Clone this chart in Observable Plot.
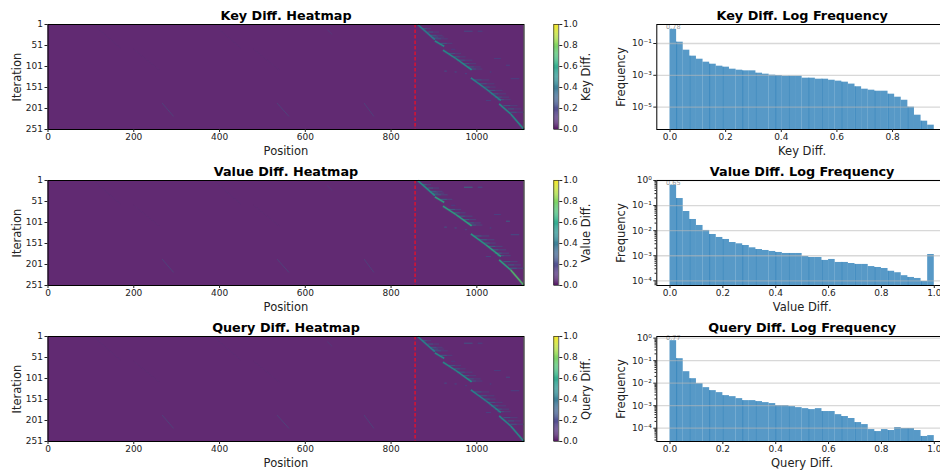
<!DOCTYPE html>
<html><head><meta charset="utf-8">
<script src="https://cdn.jsdelivr.net/npm/d3@7"></script>
<script src="https://cdn.jsdelivr.net/npm/@observablehq/plot@0.6"></script>
<style>
html,body{margin:0;padding:0;background:#fff;overflow:hidden}
#fig{position:relative;width:940px;height:470px;overflow:hidden}
#fig>div{position:absolute}
g[aria-label="link"]{filter:blur(0.5px)}
</style></head><body><div id="fig"></div>
<script>
// Heatmap: main diagonal segments (position, iteration)
const segPosStart=[862,902,921,951,986,1021,1052,1079];
const segPosEnd=[902,924,951,988,1021,1056,1079,1110];
const segIterStart=[1,40,62,82,128,154,190,214];
const segIterEnd=[37,53,82,109,154,182,214,251];
const keySegValues=[0.46,0.52,0.52,0.52,0.48,0.48,0.52,0.52];
const valueSegValues=[0.54,0.62,0.62,0.62,0.58,0.62,0.62,0.72];
const querySegValues=[0.48,0.52,0.52,0.52,0.48,0.48,0.5,0.52];
// Horizontal fading tails to the right of the diagonal
const tailIter=[11,19,27,31,35,46,70,78,86,94,102,107,133,142,150,158,166,174,180,194,202,210];
const tailStart=[873,885,893,897,900,916,935,947,955,967,978,984,994,1005,1017,1026,1033,1042,1048,1062,1072,1078];
const tailMid=[883,898,906,910,916,930,949,960,972,982,993,998,1011,1023,1030,1043,1050,1058,1063,1078,1087,1093];
const tailEnd=[893,912,920,924,932,943,963,974,990,998,1009,1013,1029,1041,1044,1060,1068,1075,1079,1095,1103,1109];
const tailValues={key:0.3,value:0.36,query:0.3};
// Isolated streaks
const blobPosStart=[970,1002,1040,1068,1079,924,948,972,1021,1030,940];
const blobPosEnd=[990,1013,1056,1077,1099,930,953,977,1033,1034,950];
const blobIter=[17,17,82,98,130,112,114,118,182,114,60];
const keyBlobValues=[0.3,0.25,0.22,0.24,0.24,0.32,0.3,0.26,0.24,0.24,0.2];
const valueBlobValues=[0.5,0.32,0.24,0.42,0.3,0.36,0.34,0.28,0.28,0.28,0.22];
const queryBlobValues=[0.34,0.26,0.22,0.3,0.24,0.3,0.28,0.24,0.24,0.24,0.2];
// Faint diagonal traces to the left of the boundary
const faintX1=[266,534,737,651,110,390,200,480];
const faintX2=[293,562,760,663,169,450,260,540];
const faintY1=[188,188,188,13,5,5,60,60];
const faintY2=[220,220,220,25,57,57,110,110];
const faintValues=[0.4,0.4,0.38,0.32,0.3,0.3,0.3,0.3];
const faintOpacity=[0.3,0.3,0.3,0.25,0.08,0.08,0.06,0.06];
const heatBackground=0.015;
const boundary=856;
const heatXTicks=[0,200,400,600,800,1000];
const heatYTicks=[1,51,101,151,201,251];
const barTicks=[0,0.2,0.4,0.6,0.8,1];
const colorSteps=d3.range(0,100).map(i=>i/100);

// Histograms (40 bins)
const keyFreq=[0.78,0.121,0.0381,0.016,0.0103,0.0067,0.005,0.00375,0.00325,0.00243,0.0021,0.00191,0.00191,0.00136,0.00118,0.00102,0.00097,0.00088,0.00088,0.00088,0.00066,0.00066,0.00057,0.00057,0.00049,0.00043,0.00037,0.00028,0.00019,0.000134,0.000116,0.0001,0.0001,0.000065,0.000042,0.000027,9.9e-6,3.1e-6,1.3e-6,7.3e-7];
const valueFreq=[0.65,0.191,0.058,0.0279,0.0161,0.0102,0.00703,0.00535,0.00445,0.00337,0.00299,0.00256,0.00207,0.00177,0.00162,0.00148,0.00135,0.00123,0.00123,0.00123,0.00093,0.00085,0.00085,0.00065,0.00071,0.00054,0.00054,0.00049,0.00045,0.00045,0.00037,0.00034,0.00031,0.00024,0.00021,0.00016,0.000136,0.000124,0.000094,0.00112];
const queryFreq=[0.77,0.122,0.0323,0.0158,0.0095,0.00632,0.00466,0.0038,0.0028,0.00252,0.00206,0.00168,0.00168,0.00152,0.00137,0.00124,0.00101,0.00101,0.00091,0.00082,0.00074,0.00067,0.00074,0.00055,0.00055,0.0004,0.00033,0.00027,0.000178,0.000145,0.000087,0.000071,0.000087,0.000079,0.000107,0.000097,0.000097,0.000079,0.000043,0.000047];
const seamEdges=[1,3,6,8,11,13,16,18,21,23,26,28,31,33,36,38];

const font={fontFamily:"DejaVu Sans",fontSize:"9px",color:"#222",maxWidth:"none",background:"transparent"};
const fig=document.getElementById("fig");
function place(svg,left,top){const d=document.createElement("div");d.style.left=left+"px";d.style.top=top+"px";d.appendChild(svg);fig.appendChild(d);}
const titleOpts={frameAnchor:"top",lineAnchor:"middle",dy:-9,fontWeight:"bold",fontSize:12.8,fill:"#000"};
const xLabelOpts={frameAnchor:"bottom",lineAnchor:"middle",dy:22,fontSize:11.5,fill:"#222"};
const yLabelOpts=dx=>({frameAnchor:"left",textAnchor:"middle",lineAnchor:"middle",dx,rotate:-90,fontSize:11.5,fill:"#222"});
const svgHeight=165,marginBottom=36;

function heatmap(top,title,segValues,tailValue,blobValues){
  const seg=segValues.map((v,i)=>({x1:segPosStart[i],x2:segPosEnd[i],y1:segIterStart[i],y2:segIterEnd[i],v}));
  const tail=tailIter.map((y,i)=>({x1:tailStart[i],x2:tailEnd[i],y1:y,y2:y,v:tailValue}));
  const tailNear=tailIter.map((y,i)=>({x1:tailStart[i],x2:tailMid[i],y1:y,y2:y,v:tailValue+0.14}));
  const blob=blobValues.map((v,i)=>({x1:blobPosStart[i],x2:blobPosEnd[i],y1:blobIter[i],y2:blobIter[i],v}));
  const faint=faintValues.map((v,i)=>({x1:faintX1[i],x2:faintX2[i],y1:faintY1[i],y2:faintY2[i],v,o:faintOpacity[i]}));
  const link=(data,w,o)=>Plot.link(data,{x1:"x1",x2:"x2",y1:"y1",y2:"y2",stroke:"v",strokeWidth:w,strokeOpacity:o});
  place(Plot.plot({
    width:540,height:svgHeight,marginLeft:47.5,marginRight:16.5,marginTop:24,marginBottom,style:font,
    x:{domain:[0,1110]},y:{domain:[251,1]},
    color:{type:"linear",scheme:"viridis",domain:[0,1]},
    marks:[
      Plot.rect([heatBackground],{x1:()=>0,x2:()=>1110,y1:()=>1,y2:()=>251,fill:d=>d,opacity:0.85}),
      link(faint,1,"o"),link(tail,1.3,0.32),link(tailNear,1.2,0.3),link(blob,1.1,0.6),link(seg,3,0.16),link(seg,1.4,0.85),
      Plot.ruleX([boundary],{stroke:"#e3102c",strokeWidth:1.4,strokeDasharray:"3.5,2"}),
      Plot.frame({stroke:"#000",strokeWidth:1}),
      Plot.axisX({ticks:heatXTicks,tickSize:3,tickPadding:1.5,label:null,tickFormat:d3.format("d")}),
      Plot.axisY({ticks:heatYTicks,tickSize:3,tickPadding:2,label:null,tickFormat:d3.format("d")}),
      Plot.text([title+" Heatmap"],titleOpts),
      Plot.text(["Position"],xLabelOpts),
      Plot.text(["Iteration"],yLabelOpts(-31))
    ]
  }),0,top-24);
  place(Plot.plot({
    width:70,height:svgHeight,marginLeft:13.3,marginRight:51.7,marginTop:24,marginBottom,style:font,
    x:{domain:[0,1],axis:null},y:{domain:[0,1]},
    color:{type:"linear",scheme:"viridis",domain:[0,1]},
    marks:[
      Plot.rect(colorSteps,{x1:()=>0,x2:()=>1,y1:d=>d,y2:d=>d+0.0105,fill:d=>d,opacity:0.9}),
      Plot.frame({stroke:"#222",strokeWidth:0.7}),
      Plot.axisY({anchor:"right",ticks:barTicks,tickSize:3,tickPadding:1.5,label:null,tickFormat:d3.format(".1f")}),
      Plot.text([title],{frameAnchor:"right",textAnchor:"middle",lineAnchor:"middle",dx:28,rotate:-90,fontSize:11.5,fill:"#222"})
    ]
  }),540,top-24);
}

function hist(top,title,freq,binWidth,xDomain,xTicks,yDomain,yTicks,yMinor,labelText){
  const bins=freq.map((f,i)=>({a:i*binWidth,b:(i+1)*binWidth,f}));
  const sup={"-":"⁻","0":"⁰","1":"¹","2":"²","3":"³","4":"⁴","5":"⁵","6":"⁶"};
  const fmt=d=>"10"+String(Math.round(Math.log10(d))).split("").map(c=>sup[c]).join("");
  const marks=[
    Plot.rect(bins,{x1:"a",x2:"b",y1:()=>yDomain[0],y2:"f",fill:"#1f77b4",fillOpacity:0.75}),
    Plot.ruleX(seamEdges,{x:k=>k*binWidth,y1:()=>yDomain[0],y2:k=>Math.min(freq[k-1],freq[k]),stroke:"#2b7db8",strokeWidth:1,strokeOpacity:0.7}),
    Plot.gridY(yTicks,{stroke:"#b8b8b8",strokeOpacity:0.55,strokeWidth:1.3}),
    Plot.text([labelText],{x:()=>binWidth/2,y:()=>freq[0],lineAnchor:"bottom",dy:-0.5,fontSize:6.5,fill:"#999"}),
    Plot.frame({stroke:"#000",strokeWidth:1}),
    Plot.axisX({ticks:xTicks,tickSize:3,tickPadding:1.5,label:null,tickFormat:d3.format(".1f")}),
    Plot.axisY({ticks:yTicks,tickSize:3,tickPadding:2,label:null,tickFormat:fmt}),
    Plot.text([title+" Log Frequency"],titleOpts),
    Plot.text([title],xLabelOpts),
    Plot.text(["Frequency"],yLabelOpts(-35))
  ];
  if(yMinor.length) marks.push(Plot.axisY({ticks:yMinor,tickSize:1.8,label:null,tickFormat:()=>""}));
  place(Plot.plot({
    width:340,height:svgHeight,marginLeft:46.3,marginRight:3,marginTop:24,marginBottom,style:font,
    x:{domain:xDomain},y:{type:"log",domain:yDomain},marks
  }),610,top-24);
}

const minorDecades=[1e-1,1e-2,1e-3,1e-4,1e-5];
const minorMultipliers=[2,3,4,5,6,7,8,9];
const minorTicks=minorDecades.flatMap(d=>minorMultipliers.map(m=>d*m));

heatmap(24.3,"Key Diff.",keySegValues,tailValues.key,keyBlobValues);
heatmap(180.2,"Value Diff.",valueSegValues,tailValues.value,valueBlobValues);
heatmap(335.8,"Query Diff.",querySegValues,tailValues.query,queryBlobValues);

hist(24.3,"Key Diff.",keyFreq,0.02375,[-0.0475,0.9975],[0,0.2,0.4,0.6,0.8],[3.9e-7,1.57],[1e-1,1e-3,1e-5],[],"0.78");
hist(180.2,"Value Diff.",valueFreq,0.025,[-0.05,1.05],[0,0.2,0.4,0.6,0.8,1],[6.5e-5,1],[1,1e-1,1e-2,1e-3,1e-4],minorTicks.filter(t=>t>6.5e-5&&t<1),"0.65");
hist(335.8,"Query Diff.",queryFreq,0.025,[-0.05,1.05],[0,0.2,0.4,0.6,0.8,1],[2.57e-5,1.18],[1,1e-1,1e-2,1e-3,1e-4],minorTicks.filter(t=>t>2.57e-5&&t<1.18),"0.77");
</script></body></html>
